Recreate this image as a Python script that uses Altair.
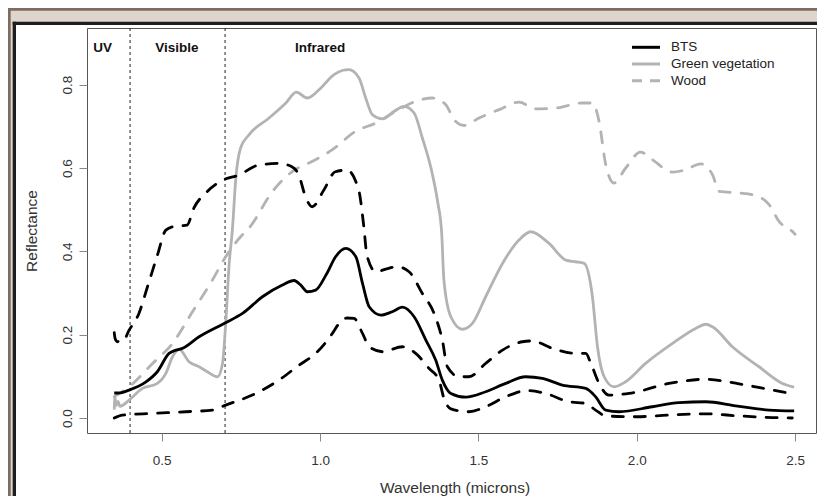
import altair as alt
import pandas as pd

# ---------------- data ----------------
bts_x = [0.35, 0.364, 0.397, 0.449, 0.486, 0.523, 0.545, 0.565, 0.618, 0.697, 0.755, 0.818, 0.881,
         0.918, 0.939, 0.960, 0.986, 1.02, 1.049, 1.081, 1.113, 1.134, 1.155, 1.192, 1.228, 1.260,
         1.297, 1.334, 1.365, 1.386, 1.413, 1.460, 1.523, 1.586, 1.649, 1.702, 1.765, 1.839, 1.870,
         1.902, 1.944, 2.049, 2.133, 2.218, 2.312, 2.418, 2.497]
bts_y = [0.060, 0.060, 0.067, 0.086, 0.111, 0.155, 0.163, 0.167, 0.195, 0.227, 0.251, 0.291, 0.319,
         0.330, 0.319, 0.303, 0.307, 0.345, 0.387, 0.407, 0.387, 0.323, 0.267, 0.247, 0.255, 0.266,
         0.243, 0.187, 0.139, 0.091, 0.059, 0.050, 0.063, 0.083, 0.099, 0.095, 0.079, 0.071, 0.051,
         0.019, 0.015, 0.027, 0.037, 0.039, 0.029, 0.019, 0.017]

bts_hi_x = [0.35, 0.353, 0.36, 0.37, 0.38, 0.397, 0.428, 0.455, 0.486, 0.513, 0.540, 0.58, 0.601,
            0.643, 0.69, 0.743, 0.806, 0.869, 0.911, 0.933, 0.954, 0.975, 1.012, 1.048, 1.085, 1.122,
            1.138, 1.148, 1.176, 1.21, 1.244, 1.281, 1.323, 1.36, 1.386, 1.402, 1.439, 1.47, 1.523,
            1.576, 1.639, 1.67, 1.734, 1.807, 1.839, 1.855, 1.881, 1.912, 1.976, 2.102, 2.218, 2.323,
            2.428, 2.491]
bts_hi_y = [0.205, 0.19, 0.183, 0.19, 0.188, 0.211, 0.251, 0.315, 0.390, 0.451, 0.460, 0.463, 0.503,
            0.543, 0.570, 0.583, 0.607, 0.611, 0.603, 0.583, 0.531, 0.507, 0.547, 0.591, 0.595, 0.547,
            0.46, 0.39, 0.351, 0.358, 0.363, 0.351, 0.299, 0.251, 0.187, 0.123, 0.099, 0.099, 0.131,
            0.163, 0.183, 0.185, 0.167, 0.155, 0.155, 0.131, 0.083, 0.055, 0.059, 0.083, 0.093, 0.082,
            0.067, 0.058]

bts_lo_x = [0.35, 0.376, 0.471, 0.576, 0.66, 0.702, 0.786, 0.87, 0.934, 0.986, 1.039, 1.06, 1.085,
            1.107, 1.134, 1.155, 1.197, 1.26, 1.302, 1.344, 1.376, 1.39, 1.413, 1.47, 1.523, 1.586,
            1.655, 1.712, 1.786, 1.839, 1.870, 1.902, 1.997, 2.102, 2.218, 2.323, 2.428, 2.491]
bts_lo_y = [0.0, 0.007, 0.011, 0.015, 0.019, 0.031, 0.055, 0.091, 0.127, 0.155, 0.203, 0.227, 0.240,
            0.239, 0.203, 0.171, 0.159, 0.171, 0.155, 0.119, 0.090, 0.050, 0.022, 0.015, 0.027, 0.051,
            0.066, 0.059, 0.039, 0.035, 0.019, 0.005, 0.003, 0.007, 0.010, 0.005, 0.001, 0.0]

veg_x = [0.35, 0.352, 0.356, 0.362, 0.368, 0.397, 0.439, 0.486, 0.513, 0.534, 0.555, 0.586, 0.618,
         0.644, 0.676, 0.692, 0.702, 0.713, 0.723, 0.734, 0.749, 0.776, 0.839, 0.892, 0.925, 0.96,
         0.997, 1.044, 1.07, 1.091, 1.123, 1.144, 1.165, 1.197, 1.234, 1.265, 1.297, 1.323, 1.355,
         1.371, 1.384, 1.391, 1.413, 1.449, 1.481, 1.523, 1.576, 1.628, 1.665, 1.723, 1.776, 1.807,
         1.834, 1.86, 1.876, 1.897, 1.928, 1.965, 2.028, 2.113, 2.186, 2.218, 2.239, 2.302, 2.386,
         2.46, 2.497]
veg_y = [0.02, 0.05, 0.03, 0.04, 0.028, 0.043, 0.071, 0.083, 0.107, 0.147, 0.165, 0.135, 0.123,
         0.111, 0.099, 0.131, 0.227, 0.371, 0.451, 0.576, 0.648, 0.680, 0.720, 0.756, 0.782, 0.768,
         0.788, 0.824, 0.834, 0.836, 0.816, 0.768, 0.728, 0.718, 0.736, 0.748, 0.732, 0.672, 0.584,
         0.52, 0.444, 0.331, 0.243, 0.213, 0.227, 0.291, 0.371, 0.427, 0.447, 0.419, 0.379, 0.375,
         0.371, 0.291, 0.171, 0.099, 0.075, 0.087, 0.131, 0.179, 0.215, 0.225, 0.219, 0.171, 0.123,
         0.083, 0.074]

wood_x = [0.35, 0.397, 0.471, 0.534, 0.597, 0.66, 0.702, 0.749, 0.776, 0.85, 0.913, 0.976, 1.039,
          1.112, 1.176, 1.239, 1.302, 1.355, 1.397, 1.423, 1.455, 1.502, 1.565, 1.628, 1.681, 1.744,
          1.828, 1.86, 1.881, 1.902, 1.928, 1.965, 2.012, 2.049, 2.113, 2.155, 2.202, 2.239, 2.26,
          2.323, 2.365, 2.418, 2.449, 2.491, 2.5]
wood_y = [0.051, 0.075, 0.131, 0.179, 0.255, 0.331, 0.387, 0.435, 0.456, 0.544, 0.592, 0.616, 0.644,
          0.688, 0.708, 0.736, 0.760, 0.768, 0.752, 0.716, 0.702, 0.720, 0.740, 0.758, 0.742, 0.744,
          0.756, 0.756, 0.712, 0.608, 0.564, 0.600, 0.638, 0.620, 0.590, 0.596, 0.610, 0.584, 0.544,
          0.540, 0.536, 0.512, 0.472, 0.448, 0.441]

region_labels = ["UV", "Visible", "Infrared"]
region_x = [0.313, 0.548, 1.0]
region_y = [0.888, 0.888, 0.888]

boundaries = [0.4, 0.7]

legend_labels = ["BTS", "Green vegetation", "Wood"]

x_ticks = [0.5, 1.0, 1.5, 2.0, 2.5]
y_ticks = [0.0, 0.2, 0.4, 0.6, 0.8]

# ---------------- layout / style ----------------
FONT = "Liberation Sans"
W, H = 729, 405
GRAY = "#b3b3b3"
BLACK = "#000000"
DASH = [11, 11]

xscale = alt.Scale(domain=[0.264, 2.566], nice=False, zero=False)
yscale = alt.Scale(domain=[-0.036, 0.936], nice=False, zero=False)

xaxis = alt.Axis(values=x_ticks, format=".1f", title="Wavelength (microns)", grid=False,
                 domain=False, tickSize=8, tickColor="#888888", labelPadding=12,
                 labelFontSize=13.5, labelColor="#333333", labelFont=FONT,
                 titleFont=FONT, titleFontSize=15.5, titleFontWeight="normal",
                 titleColor="#333333", titleX=(822 - 87) / 2, titleY=59,
                 titleBaseline="alphabetic", titleAlign="center", zindex=1)
yaxis = alt.Axis(values=y_ticks, format=".1f", title="Reflectance", grid=False,
                 domain=False, tickSize=8, tickColor="#888888", labelPadding=8,
                 labelAngle=270, labelAlign="center", labelBaseline="alphabetic",
                 labelFontSize=13.5, labelColor="#333333", labelFont=FONT,
                 titleFont=FONT, titleFontSize=15.5, titleFontWeight="normal",
                 titleColor="#333333", titleAngle=270, titleX=-51, titleY=H / 2,
                 titleBaseline="alphabetic", titleAlign="center", zindex=1)

X = alt.X("w:Q", scale=xscale, axis=xaxis)
Y = alt.Y("r:Q", scale=yscale, axis=yaxis)

one = pd.DataFrame({"k": [0]})


def piece(x, x2, y, y2, color):
    return alt.Chart(one).mark_rect(color=color).encode(
        x=alt.value(x), x2=alt.value(x2), y=alt.value(y), y2=alt.value(y2))


BROWN = "#7e6c60"
BEIGE = "#ded6cd"
FRAME = "#1e1e1e"
frame = [
    piece(-79, 740, -20, -5, BEIGE),
    piece(-79, -73, -20, 480, BEIGE),
    piece(-79, 740, -20, -17.3, BROWN),
    piece(-79, -76.3, -20, 480, BROWN),
    piece(-74.3, 740, -6.3, -3, FRAME),
    piece(-74.3, -71, -6.3, 480, FRAME),
]


def series(xs, ys, color, dashed, width=2.8):
    df = pd.DataFrame({"w": xs, "r": ys})
    kw = dict(color=color, strokeWidth=width, interpolate="monotone", strokeJoin="round")
    if dashed:
        kw["strokeDash"] = DASH
        kw["strokeCap"] = "round"
    return alt.Chart(df).mark_line(**kw).encode(x=X, y=Y)


rules = alt.Chart(pd.DataFrame({"w": boundaries})).mark_rule(
    color="#222222", strokeWidth=1, strokeDash=[3, 3]).encode(x=X)

lines = [
    series(wood_x, wood_y, GRAY, True),
    series(veg_x, veg_y, GRAY, False),
    series(bts_hi_x, bts_hi_y, BLACK, True),
    series(bts_lo_x, bts_lo_y, BLACK, True),
    series(bts_x, bts_y, BLACK, False),
]

regions = alt.Chart(pd.DataFrame({"w": region_x, "r": region_y, "t": region_labels})).mark_text(
    font=FONT, fontSize=13.5, fontWeight="bold", color="#111111", align="center",
    baseline="middle").encode(x=X, y=Y, text="t:N")

leg_styles = [(BLACK, None), (GRAY, None), (GRAY, [10, 8])]
legend = []
for i, (lab, (col, dash)) in enumerate(zip(legend_labels, leg_styles)):
    yy = 19.3 + i * 16.7
    kw = dict(color=col, strokeWidth=3)
    if dash:
        kw["strokeDash"] = dash
    legend.append(alt.Chart(one).mark_rule(**kw).encode(
        x=alt.value(545), x2=alt.value(573), y=alt.value(yy)))
    legend.append(alt.Chart(one).mark_text(
        text=lab, font=FONT, fontSize=13.5, color="#222222", align="left",
        baseline="middle").encode(x=alt.value(584), y=alt.value(yy)))

chart = alt.layer(*frame, rules, *lines, regions, *legend).properties(
    width=W, height=H,
    autosize=alt.AutoSizeParams(type="none"),
    padding={"left": 79, "top": 20, "right": 1, "bottom": 63},
    background="white",
).configure_view(stroke="#555555", strokeWidth=1)

chart.save("out.html", embed_options={"renderer": "svg", "actions": False})
